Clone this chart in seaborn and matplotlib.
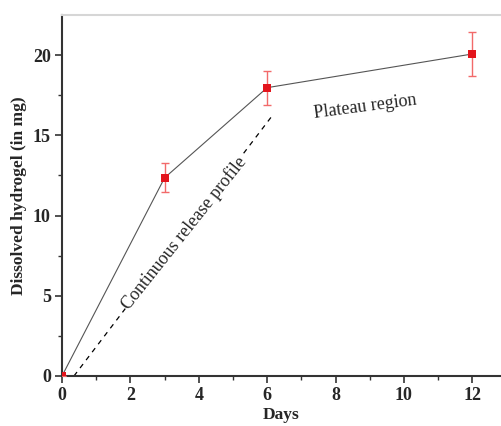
import numpy as np
import pandas as pd
import seaborn as sns
import matplotlib.pyplot as plt

# data
days = [0, 3, 6, 12]
dissolved = [0, 12.35, 17.97, 20.07]
err = [0, 0.9, 1.05, 1.37]

# guide line for the release profile
guide_x = [0.35, 6.13]
guide_y = [0, 16.17]

df = pd.DataFrame({"Days": days, "Dissolved": dissolved, "err": err})

sns.set_style("ticks")
plt.rcParams['font.family'] = ['Liberation Serif', 'DejaVu Serif']

fig = plt.figure(figsize=(5.01, 4.26), dpi=100)
ax = fig.add_axes([62 / 501, 50 / 426, 439 / 501, 361 / 426])

sns.lineplot(data=df, x="Days", y="Dissolved", color="#555555", lw=0.8, ax=ax)
ax.errorbar(df["Days"], df["Dissolved"], yerr=df["err"], fmt="none",
            ecolor="#f26a6a", elinewidth=1.0, capsize=3, capthick=1.0, zorder=3)
sns.scatterplot(data=df, x="Days", y="Dissolved", marker="s", s=34,
                color="#e3141c", edgecolor="none", zorder=4, ax=ax)

ax.plot(guide_x, guide_y, color="black", lw=0.9, ls=(0, (4, 4)), zorder=2)
ax.text(3.58, 8.9, "Continuous release profile", rotation=51.5,
        rotation_mode="anchor", ha="center", va="center", fontsize=13,
        bbox=dict(facecolor="white", edgecolor="none", pad=0.5), zorder=3)
ax.text(8.86, 16.8, "Plateau region", rotation=7.5, rotation_mode="anchor",
        ha="center", va="center", fontsize=13)

ax.set_xlim(0, 12.84)
ax.set_ylim(0, 22.5)
ax.set_xticks([0, 2, 4, 6, 8, 10, 12])
ax.set_xticks([1, 3, 5, 7, 9, 11], minor=True)
ax.set_yticks([0, 5, 10, 15, 20])
ax.set_yticks([2.5, 7.5, 12.5, 17.5], minor=True)

ax.set_xlabel("Days", fontsize=12.5, fontweight="bold", labelpad=2)
ax.set_ylabel("Dissolved hydrogel (in mg)", fontsize=12.5, fontweight="bold", labelpad=4)
for lab in ax.get_xticklabels() + ax.get_yticklabels():
    lab.set_fontweight("bold")
ax.tick_params(axis="both", which="major", length=5, width=1.2, labelsize=13,
               color="#333333", pad=3)
ax.tick_params(axis="both", which="minor", length=3, width=1.0, color="#333333")

for side in ["left", "bottom"]:
    ax.spines[side].set_color("#333333")
    ax.spines[side].set_linewidth(1.5)
ax.spines["top"].set_color("#d6d6d6")
ax.spines["top"].set_linewidth(1.5)
ax.spines["right"].set_visible(False)

fig.savefig("out.png", dpi=100)
